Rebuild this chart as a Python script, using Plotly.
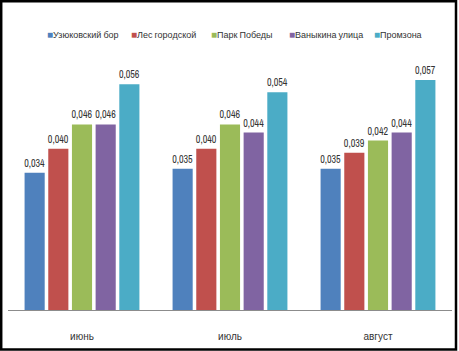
import plotly.graph_objects as go

months = ["июнь", "июль", "август"]
series_names = ["Узюковский бор", "Лес городской", "Парк Победы", "Ваныкина улица", "Промзона"]
uzyukovsky = [0.034, 0.035, 0.035]
les_gorodskoy = [0.040, 0.040, 0.039]
park_pobedy = [0.046, 0.046, 0.042]
vanykina = [0.046, 0.044, 0.044]
promzona = [0.056, 0.054, 0.057]
colors = ["#4F81BD", "#C0504D", "#9BBB59", "#8064A2", "#4BACC6"]

values = [uzyukovsky, les_gorodskoy, park_pobedy, vanykina, promzona]
FONT = "Archivo Narrow, Asap Condensed, Liberation Sans, sans-serif"
TXT = "#333333"

fig = go.Figure()
for name, vals, col in zip(series_names, values, colors):
    fig.add_trace(go.Bar(
        x=months, y=vals, name=name, marker=dict(color=col, line=dict(width=0)),
        text=[f"{v:.3f}".replace(".", ",") for v in vals],
        textposition="outside", cliponaxis=False, constraintext="none",
        textfont=dict(family=FONT, size=10, color=TXT),
        showlegend=False,
    ))

W, H = 459, 351
L, R, T, B = 8, 7, 68, 41
pw, ph = W - L - R, H - T - B

def px_x(p):
    return (p - L) / pw

def px_y(p):
    return (H - B - p) / ph

# legend entries (left edge of each key, in pixels) — built as text annotations
legend_left_px = [45, 129, 209, 287, 372]
annotations = []
for name, col, lx in zip(series_names, colors, legend_left_px):
    annotations.append(dict(
        x=px_x(lx), y=px_y(35), xref="paper", yref="paper", xanchor="left", yanchor="middle",
        showarrow=False,
        text=f"<span style='color:{col};font-size:10px'>■</span>{name}",
        font=dict(family=FONT, size=9, color=TXT),
    ))

fig.update_layout(
    width=W, height=H,
    margin=dict(l=L, r=R, t=T, b=B),
    paper_bgcolor="white", plot_bgcolor="white",
    barmode="group", bargap=0.2, bargroupgap=0.15,
    font=dict(family=FONT, size=10, color=TXT),
    showlegend=False,
    annotations=annotations,
    xaxis=dict(showline=True, linecolor="#8C8C8C", linewidth=1, showgrid=False,
               ticks="outside", ticklen=17, tickcolor="rgba(0,0,0,0)",
               tickfont=dict(family=FONT, size=10, color=TXT)),
    yaxis=dict(visible=False, range=[0, 0.06], showgrid=False, zeroline=False),
    shapes=[dict(type="rect", xref="paper", yref="paper",
                 x0=px_x(1.2), x1=px_x(456), y0=px_y(349.5), y1=px_y(1.2),
                 line=dict(color="black", width=2.5))],
)

fig.write_html("out.html", config={"displayModeBar": False},
               post_script="document.body.style.margin='0';document.body.style.overflow='hidden';")
